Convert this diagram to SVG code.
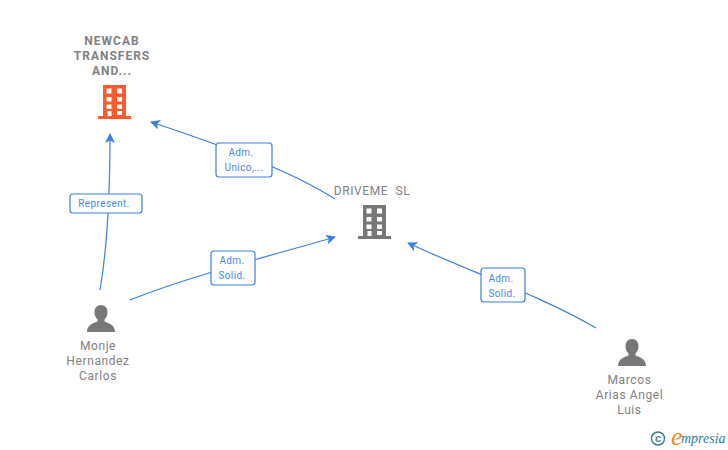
<svg xmlns="http://www.w3.org/2000/svg" width="728" height="450" viewBox="0 0 728 450">
<style>
.n{font-family:Roboto,"Liberation Sans",sans-serif;font-size:12px;fill:#808080;text-anchor:middle;letter-spacing:.6px;white-space:pre}
.b{font-weight:700;letter-spacing:1px}
.l{font-family:Roboto,"Liberation Sans",sans-serif;font-size:10px;fill:#4a88e0;text-anchor:middle;letter-spacing:.4px}
.c{fill:none;stroke:#3c80dd;stroke-width:1.200}
.lb{fill:#fff;stroke:#3c80dd;stroke-width:1.200}
</style>
<defs>
<marker id="a" markerUnits="userSpaceOnUse" markerWidth="12" markerHeight="12" refX="9" refY="5" orient="auto"><path d="M0 0L10 5L0 10L2.500 5Z" fill="#3c80dd"/></marker>
<g id="bld"><path fill-rule="evenodd" d="M5 0H28V31H33V34H0V31H5ZM8.500 3.500V8.500H13.500V3.500ZM19 3.500V8.500H24V3.500ZM8.500 12V16.500H13.500V12ZM19 12V16.500H24V12ZM8.500 19.500V24H13.500V19.500ZM19 19.500V24H24V19.500ZM9.500 26V31H13.500V26ZM19 26V30H24V26Z"/></g>
<path id="psn" d="M14 0C18 0 20.500 3 20.500 7C20.500 10.500 19 13 17.500 14.500V16.500C21 18 28 19.500 28 27H0C0 19.500 7 18 10.500 16.500V14.500C9 13 7.500 10.500 7.500 7C7.500 3 10 0 14 0Z" fill="#777"/>
</defs>
<g id="connectors">
<path class="c" marker-end="url(#a)" d="M100 290C106 255 110 200 110 134"/>
<path class="c" marker-end="url(#a)" d="M335 199C290 170 220 145 151 122"/>
<path class="c" marker-end="url(#a)" d="M130 300C190 276 270 256 335 237"/>
<path class="c" marker-end="url(#a)" d="M596 328C540 295 470 272 408 243"/>
<g id="edge-labels">
<rect class="lb" x="70" y="194" width="72" height="19" rx="3"/><text class="l" x="104" y="207">Represent.</text>
<rect class="lb" x="216" y="143" width="56" height="34" rx="3"/><text class="l" x="241" y="156">Adm.</text><text class="l" x="244" y="171">Unico,...</text>
<rect class="lb" x="211" y="251" width="44" height="34" rx="3"/><text class="l" x="232" y="264">Adm.</text><text class="l" x="232" y="279">Solid.</text>
<rect class="lb" x="481" y="268" width="44" height="34" rx="3"/><text class="l" x="501" y="282">Adm.</text><text class="l" x="502" y="297">Solid.</text>
</g>
</g>
<g id="newcab"><text class="n b" x="112" y="45">NEWCAB</text><text class="n b" x="112" y="60">TRANSFERS</text><text class="n b" x="112" y="75">AND...</text><use href="#bld" x="98" y="85" fill="#ff5a2b"/></g>
<g id="driveme"><text class="n" x="372" y="195">DRIVEME  SL</text><use href="#bld" x="358" y="205" fill="#777"/></g>
<g id="monje"><use href="#psn" x="87" y="305"/><text class="n" x="98" y="350">Monje</text><text class="n" x="98" y="365">Hernandez</text><text class="n" x="98" y="380">Carlos</text></g>
<g id="marcos"><use href="#psn" x="618" y="339"/><text class="n" x="629.500" y="384">Marcos</text><text class="n" x="629.500" y="399">Arias Angel</text><text class="n" x="629.500" y="414">Luis</text></g>
<g id="logo"><circle cx="658" cy="438.500" r="6.500" fill="none" stroke="#3f7f96" stroke-width="1.500"/><text x="658" y="442" font-family="'Liberation Sans',sans-serif" font-size="11" font-weight="700" fill="#3f7f96" text-anchor="middle">c</text><text x="671" y="445" font-family="'Liberation Serif',serif" font-style="italic" font-size="26" fill="#f08a1d">e</text><text x="681" y="443" font-family="'Liberation Serif',serif" font-style="italic" font-size="14" fill="#2c7f9a">mpresia</text></g>
</svg>
